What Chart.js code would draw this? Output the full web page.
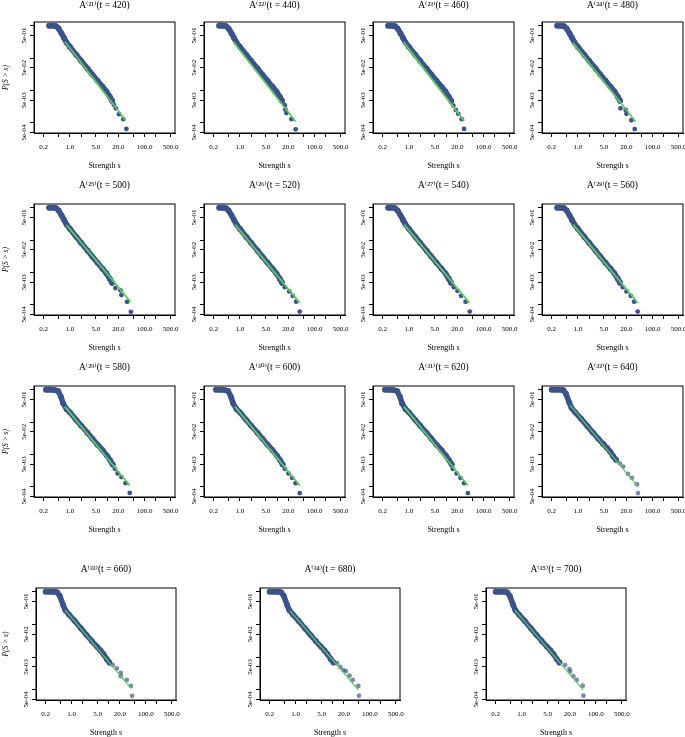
<!DOCTYPE html>
<html>
<head>
<meta charset="utf-8">
<script src="https://cdn.jsdelivr.net/npm/chart.js@4.4.0/dist/chart.umd.min.js"></script>
<style>
    body { margin: 0; background: #fff; }
    #wrap { position: relative; width: 685px; height: 737px; overflow: hidden; }
    #wrap canvas { position: absolute; }
</style>
</head>
<body>
<div id="wrap"></div>
<script>
// Panel labels
const panelIndex = [21, 22, 23, 24, 25, 26, 27, 28, 29, 30, 31, 32, 33, 34, 35];
const panelTime = [420, 440, 460, 480, 500, 520, 540, 560, 580, 600, 620, 640, 660, 680, 700];

// Axis ticks
const xTickValues = [0.2, 0.5, 1, 2, 5, 10, 20, 50, 100, 200, 500];
const xTickLabels = ['0.2', '', '1.0', '', '5.0', '', '20.0', '', '100.0', '', '500.0'];
const yTickValues = [1, 0.5, 0.1, 0.05, 0.01, 0.005, 0.001, 0.0005];
const yTickLabels = ['', '5e-01', '', '5e-02', '', '5e-03', '', '5e-04'];

// Dense part of the complementary CDF (strength s, P(S > s))
// panels 21-28
const bodyEarlyS = [0.28, 0.33, 0.38, 0.43, 0.5, 0.6, 0.7, 0.82, 1.0, 1.5, 2.0, 3.0, 4.0, 5.5, 7.5, 9.6, 11.7, 13.5];
const bodyEarlyP = [1.0, 1.0, 0.99, 0.96, 0.82, 0.58, 0.42, 0.30, 0.225, 0.125, 0.083, 0.047, 0.031, 0.02, 0.013, 0.0092, 0.0064, 0.0048];
// panels 29-31
const bodyMidS = [0.23, 0.28, 0.34, 0.4, 0.49, 0.58, 0.66, 0.82, 1.0, 1.5, 2.0, 3.0, 4.0, 5.5, 7.5, 9.8, 12, 14];
const bodyMidP = [1.0, 1.0, 0.99, 0.97, 0.9, 0.6, 0.38, 0.25, 0.2, 0.115, 0.078, 0.046, 0.031, 0.02, 0.0135, 0.0092, 0.0066, 0.0049];
// panels 32-35
const bodyLateS = [0.2, 0.25, 0.3, 0.36, 0.41, 0.48, 0.59, 0.68, 0.85, 1.2, 1.8, 2.5, 3.5, 4.8, 6.0, 7.2, 8.8, 10.5];
const bodyLateP = [1.0, 1.0, 1.0, 0.99, 0.96, 0.75, 0.40, 0.27, 0.2, 0.13, 0.075, 0.048, 0.031, 0.021, 0.016, 0.0125, 0.0088, 0.0068];

// Sparse tail of each panel (largest strengths)
const tailS = [
    [15, 17, 20.7, 27, 32.6],
    [15.9, 16.5, 17.6, 24, 31.2],
    [15.5, 18, 21, 26, 30],
    [13.8, 19, 19.9, 27, 33.2],
    [16.5, 22.6, 24, 34, 42.9],
    [16, 21, 26, 32, 40],
    [16, 20, 25, 33, 42.6],
    [16, 20, 26, 32, 40],
    [16, 19, 24, 31, 40],
    [16, 20, 25, 31, 40],
    [15, 19, 24, 30, 38],
    [13.2, 16.3, 21.9, 28, 38, 40.6],
    [12.8, 16.5, 21.1, 21.1, 30.6, 40, 42.6],
    [13, 16, 19.4, 22.5, 28.3, 34.8, 49, 51],
    [14.9, 19.4, 20.3, 24.8, 30.6, 44.3, 46.2]
];
const tailP = [
    [0.0036, 0.0028, 0.00185, 0.0013, 0.00065],
    [0.0035, 0.0026, 0.002, 0.0013, 0.00063],
    [0.0034, 0.0025, 0.0019, 0.0013, 0.00065],
    [0.0028, 0.0025, 0.0019, 0.0012, 0.00064],
    [0.0033, 0.0028, 0.002, 0.00124, 0.00061],
    [0.0035, 0.0026, 0.0019, 0.00125, 0.00062],
    [0.0035, 0.0027, 0.0019, 0.00125, 0.00062],
    [0.0035, 0.0026, 0.0019, 0.00125, 0.00062],
    [0.0036, 0.0026, 0.002, 0.0013, 0.00065],
    [0.0036, 0.0026, 0.0019, 0.0013, 0.00064],
    [0.0036, 0.0026, 0.0019, 0.0013, 0.00064],
    [0.0053, 0.0042, 0.0025, 0.0019, 0.0012, 0.00064],
    [0.0057, 0.0045, 0.0033, 0.0026, 0.002, 0.0013, 0.00065],
    [0.0065, 0.005, 0.004, 0.0037, 0.0027, 0.002, 0.0013, 0.00066],
    [0.0057, 0.0043, 0.0036, 0.0026, 0.002, 0.00133, 0.00066]
];

// Fitted power law of each panel, start and end point
const fitStartS = [0.74, 0.67, 0.72, 0.73, 0.82, 0.75, 0.75, 0.75, 0.74, 0.74, 0.74, 0.61, 0.67, 0.71, 0.66];
const fitStartP = [0.32, 0.32, 0.31, 0.30, 0.29, 0.30, 0.30, 0.30, 0.30, 0.30, 0.30, 0.34, 0.275, 0.26, 0.275];
const fitEndS = [31, 31, 30, 35, 42, 40, 42, 40, 40, 40, 38, 40.6, 40, 49, 46];
const fitEndP = [0.0012, 0.0011, 0.00115, 0.0011, 0.00124, 0.00115, 0.00115, 0.00115, 0.0011, 0.0011, 0.0011, 0.00099, 0.0011, 0.001, 0.00098];

const blue = '#3b528b';
const lightBlue = 'rgba(59, 82, 139, 0.68)';
const green = '#5ec962';
const fontFamily = "'Liberation Serif', 'DejaVu Serif', serif";

// Frame around the plotting region
const framePlugin = {
    id: 'frame',
    afterDraw(chart) {
        const a = chart.chartArea;
        const ctx = chart.ctx;
        ctx.save();
        ctx.strokeStyle = '#000';
        ctx.lineWidth = 1;
        ctx.strokeRect(a.left, a.top, a.right - a.left, a.bottom - a.top);
        ctx.restore();
    }
};

function pts(xs, ys) {
    return xs.map((x, i) => ({ x: x, y: ys[i] }));
}

function makePanel(k, boxLeft, boxTop, boxW, boxH, firstCol, titleGap) {
    const axisW = firstCol ? boxLeft : 34;
    const topM = 26;
    const canvas = document.createElement('canvas');
    const w = axisW + boxW + 14;
    const h = topM + boxH + 48;
    canvas.width = w;
    canvas.height = h;
    canvas.style.left = (boxLeft - axisW) + 'px';
    canvas.style.top = (boxTop - topM) + 'px';
    canvas.style.width = w + 'px';
    canvas.style.height = h + 'px';
    document.getElementById('wrap').appendChild(canvas);

    const sup = String(panelIndex[k]).split('').map(d => '⁰¹²³⁴⁵⁶⁷⁸⁹'[+d]).join('');
    const late = k >= 11;
    const bodyS = late ? bodyLateS : (k >= 8 ? bodyMidS : bodyEarlyS);
    const bodyP = late ? bodyLateP : (k >= 8 ? bodyMidP : bodyEarlyP);
    const titleLine = 9.5 * 1.2;

    new Chart(canvas.getContext('2d'), {
        type: 'scatter',
        data: {
            datasets: [{
                label: 'fit',
                data: pts([fitStartS[k], fitEndS[k]], [fitStartP[k], fitEndP[k]]),
                showLine: true,
                borderColor: green,
                borderWidth: late ? 1.2 : 1.8,
                pointRadius: 0
            }, {
                label: 'tail',
                data: pts(tailS[k], tailP[k]),
                showLine: false,
                backgroundColor: late ? lightBlue : blue,
                borderWidth: 0,
                pointRadius: 2.4
            }, {
                label: 'body',
                data: pts(bodyS, bodyP),
                showLine: true,
                borderColor: blue,
                borderWidth: 5.5,
                borderJoinStyle: 'round',
                borderCapStyle: 'round',
                backgroundColor: blue,
                pointBorderWidth: 0,
                pointRadius: 2.9
            }]
        },
        options: {
            responsive: false,
            animation: false,
            layout: { padding: { top: 0, left: 0, right: 14, bottom: 0 } },
            plugins: {
                legend: { display: false },
                tooltip: { enabled: false },
                title: {
                    display: true,
                    fullSize: false,
                    text: 'A' + '⁽' + sup + '⁾' + '(t = ' + panelTime[k] + ')',
                    color: '#000',
                    font: { family: fontFamily, size: 9.5, weight: 'normal' },
                    padding: { top: topM - titleGap - titleLine / 2, bottom: titleGap - titleLine / 2 }
                }
            },
            scales: {
                x: {
                    type: 'logarithmic',
                    min: 0.11,
                    max: 650,
                    afterBuildTicks: s => { s.ticks = xTickValues.map(v => ({ value: v })); },
                    afterFit: s => { s.height = 48; },
                    ticks: {
                        autoSkip: false,
                        maxRotation: 0,
                        padding: 6,
                        color: '#000',
                        font: { family: fontFamily, size: 7 },
                        callback: (v, i) => xTickLabels[i]
                    },
                    grid: { drawOnChartArea: false, drawTicks: true, tickLength: 4, color: '#000' },
                    border: { display: true, color: '#000' },
                    title: {
                        display: true,
                        text: 'Strength s',
                        color: '#000',
                        font: { family: fontFamily, size: 8 },
                        padding: { top: 0, bottom: 10 }
                    }
                },
                y: {
                    type: 'logarithmic',
                    min: 0.000485,
                    max: 1.3,
                    afterBuildTicks: s => { s.ticks = yTickValues.map(v => ({ value: v })); },
                    afterFit: s => { s.width = axisW; },
                    ticks: {
                        autoSkip: false,
                        minRotation: 90,
                        maxRotation: 90,
                        crossAlign: 'center',
                        padding: -2,
                        color: '#000',
                        font: { family: fontFamily, size: 7 },
                        callback: (v, i) => yTickLabels[i]
                    },
                    grid: { drawOnChartArea: false, drawTicks: true, tickLength: 4, color: '#000' },
                    border: { display: true, color: '#000' },
                    title: {
                        display: firstCol,
                        text: 'P(S > s)',
                        color: '#000',
                        font: { family: fontFamily, size: 7.5, style: 'italic' },
                        padding: { top: 1.5, bottom: 0 }
                    }
                }
            }
        },
        plugins: [framePlugin]
    });
}

// Rows 1-3: four panels each
const colLeft = [34, 204, 373, 542];
const rowTop = [22, 204, 386];
const rowTitleGap = [17, 19, 19];
for (let r = 0; r < 3; r++) {
    for (let c = 0; c < 4; c++) {
        makePanel(r * 4 + c, colLeft[c], rowTop[r], 141, 111, c === 0, rowTitleGap[r]);
    }
}
// Row 4: three panels
const lastLeft = [36, 260, 486];
for (let c = 0; c < 3; c++) {
    makePanel(12 + c, lastLeft[c], 588, 140, 112, c === 0, 19);
}
</script>
</body>
</html>
